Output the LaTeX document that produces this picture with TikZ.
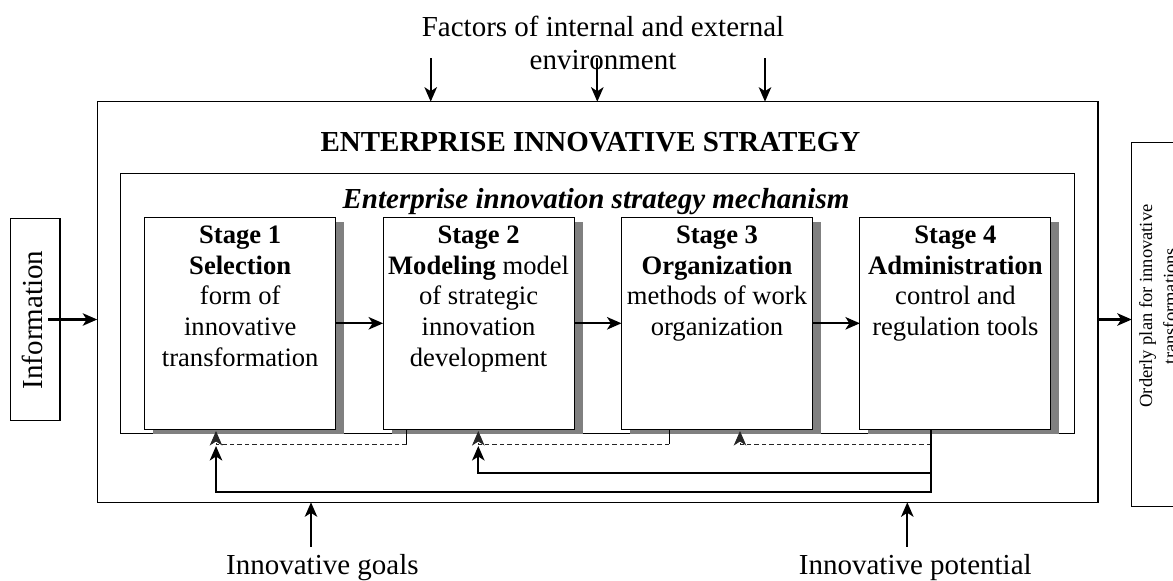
\documentclass[tikz,border=0pt]{standalone}
\usepackage{fontspec}
\setmainfont{Liberation Serif}
\usetikzlibrary{arrows.meta,shadows}
\definecolor{shade}{HTML}{808080}
\newcommand{\mytab}[1]{\begin{tabular}[t]{@{}c@{}}#1\end{tabular}}
\tikzset{
 frame/.style={draw, line width=1.1pt, inner sep=0pt, outer sep=0pt, anchor=north west, fill=white},
 stagebox/.style={frame, minimum width=191pt, minimum height=212pt,
   drop shadow={shadow xshift=8.5pt, shadow yshift=-4.5pt, fill=shade, draw=none, opacity=1}},
 tip/.tip={Stealth[length=14.5pt,width=12.5pt,inset=4pt]},
 arr/.style={line width=2.1pt, -tip},
 thinline/.style={line width=1pt},
 dashline/.style={line width=1pt, draw=black!85, dash pattern=on 4.5pt off 3pt, -tip},
 txt/.style={inner sep=0pt, anchor=base, font=\fontsize{29}{33}\selectfont},
 stagetxt/.style={inner sep=0pt, anchor=base, font=\fontsize{26.6}{30.7}\selectfont},
}
\begin{document}
\begin{tikzpicture}[x=1pt,y=-1pt]
\useasboundingbox (0,0) rectangle (1173,581);
\clip (0,0) rectangle (1173,581);
\fill[white] (0,0) rectangle (1173,581);
% frames
\node[frame, minimum width=1000.8pt, minimum height=400.6pt] (outer) at (97.2,101.7) {};
\node[frame, minimum width=953.4pt, minimum height=260pt] (inner) at (120.9,173.7) {};
\node[stagebox] (s1) at (144.7,217.3) {};
\node[stagebox] (s2) at (383.1,217.3) {};
\node[stagebox] (s3) at (621.5,217.3) {};
\node[stagebox] (s4) at (859.9,217.3) {};
\node[frame, minimum width=49.3pt, minimum height=202.4pt] (info) at (10.7,218.3) {};
\node[frame, minimum width=90pt, minimum height=364pt] (plan) at (1131.7,142.7) {};
% texts
\node[txt] (factors) at (603,36) {\mytab{Factors of internal and external\\environment}};
\node[txt, font=\fontsize{29}{33}\selectfont\bfseries] (title) at (590.5,151.7) {ENTERPRISE INNOVATIVE STRATEGY};
\node[txt, font=\fontsize{29}{33}\selectfont\bfseries\itshape] (mech) at (596,208) {Enterprise innovation strategy mechanism};
\node[txt] (goals) at (322.4,574.5) {Innovative goals};
\node[txt] (potential) at (915.3,574.5) {Innovative potential};
\node[txt, rotate=90] (infotxt) at (42.5,320) {Information};
\node[txt, rotate=90, font=\fontsize{18.5}{24}\selectfont] (plantxt) at (1152,306) {\mytab{Orderly plan for innovative\\transformations}};
\node[stagetxt] (s1t) at (240.2,243.3) {\mytab{\textbf{Stage 1}\\\textbf{Selection}\\form of\\innovative\\transformation}};
\node[stagetxt] (s2t) at (478.6,243.3) {\mytab{\textbf{Stage 2}\\\textbf{Modeling} model\\of strategic\\innovation\\development}};
\node[stagetxt] (s3t) at (717.0,243.3) {\mytab{\textbf{Stage 3}\\\textbf{Organization}\\methods of work\\organization}};
\node[stagetxt] (s4t) at (955.4,243.3) {\mytab{\textbf{Stage 4}\\\textbf{Administration}\\control and\\regulation tools}};
% stage arrows
\draw[arr] (s1.east) -- (s2.west);
\draw[arr] (s2.east) -- (s3.west);
\draw[arr] (s3.east) -- (s4.west);
% factor arrows
\coordinate (f1) at (430.7,58);
\coordinate (f2) at (597.3,58);
\coordinate (f3) at (765,58);
\draw[arr] (f1) -- (f1 |- outer.north);
\draw[arr] (f2) -- (f2 |- outer.north);
\draw[arr] (f3) -- (f3 |- outer.north);
% bottom arrows
\coordinate (g1) at (311,546.7);
\coordinate (g2) at (907.3,546.7);
\draw[arr] (g1) -- (g1 |- outer.south);
\draw[arr] (g2) -- (g2 |- outer.south);
% in / out
\draw[arr] ([xshift=-11.7pt]info.east) -- (info.east -| outer.west);
\draw[arr] (outer.east |- info.east) -- (plan.west |- info.east);
% feedback
\coordinate (d1) at (406.7,444.3);
\coordinate (d2) at (669,444.3);
\coordinate (d3) at (931,444.3);
\coordinate (t1) at (216,431);
\coordinate (t2) at (478.3,431);
\coordinate (t3) at (740,431);
\draw[thinline] (d1 |- s2.south) -- (d1);
\draw[thinline] (d2 |- s3.south) -- (d2);
\draw[dashline] (d1) -- (d1 -| t1) -- (t1);
\draw[dashline] (d2) -- (d2 -| t2) -- (t2);
\draw[dashline] (d3) -- (d3 -| t3) -- (t3);
\coordinate (b1) at (931,491.7);
\coordinate (m1) at (931,473.3);
\draw[arr] (d3 |- s4.south) -- (b1) -- (b1 -| t1) -- (216,446);
\draw[arr] (m1) -- (m1 -| t2) -- (478.3,446);
\end{tikzpicture}
\end{document}
